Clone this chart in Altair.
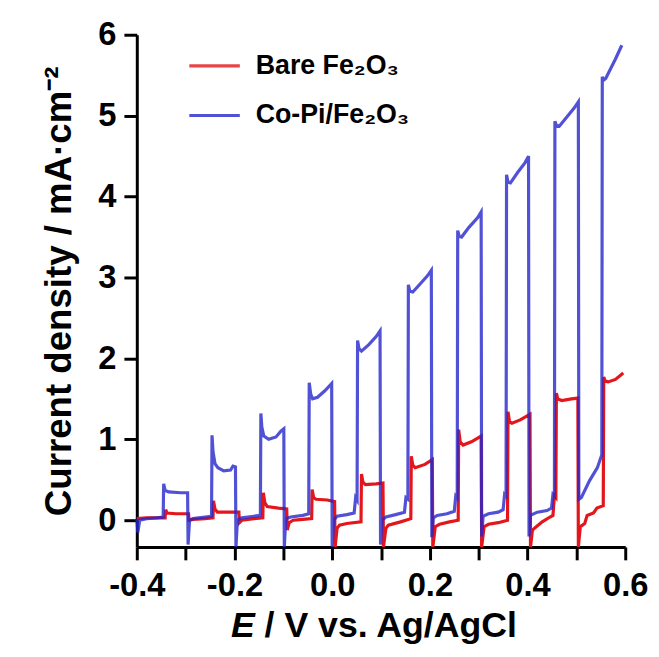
import altair as alt
import pandas as pd

# ---- data (chopped-light LSV) ----
bare_E = [-0.400, -0.380, -0.342, -0.341, -0.338, -0.320, -0.294, -0.293, -0.285, -0.260,
          -0.244, -0.243, -0.240, -0.235, -0.200, -0.191, -0.190, -0.185, -0.160, -0.142,
          -0.141, -0.138, -0.133, -0.110, -0.093, -0.092, -0.088, -0.080, -0.060, -0.042,
          -0.041, -0.038, -0.033, -0.010, 0.005, 0.006, 0.010, 0.015, 0.030, 0.059,
          0.060, 0.063, 0.068, 0.090, 0.104, 0.105, 0.110, 0.115, 0.140, 0.161,
          0.162, 0.165, 0.170, 0.190, 0.205, 0.206, 0.211, 0.220, 0.240, 0.258,
          0.259, 0.262, 0.268, 0.285, 0.305, 0.306, 0.311, 0.320, 0.340, 0.359,
          0.360, 0.363, 0.368, 0.385, 0.405, 0.406, 0.410, 0.416, 0.430, 0.446,
          0.452, 0.455, 0.458, 0.459, 0.462, 0.470, 0.490, 0.503, 0.504, 0.508,
          0.517, 0.522, 0.535, 0.542, 0.555, 0.556, 0.559, 0.565, 0.580, 0.596]
bare_J = [0.02, 0.03, 0.03, 0.13, 0.09, 0.08, 0.08, 0.00, 0.01, 0.02,
          0.03, 0.24, 0.14, 0.10, 0.10, 0.10, -0.03, 0.00, 0.02, 0.03,
          0.34, 0.22, 0.17, 0.15, 0.14, -0.12, -0.03, 0.00, 0.01, 0.02,
          0.38, 0.28, 0.26, 0.25, 0.23, -0.33, -0.10, -0.06, -0.04, -0.02,
          0.57, 0.47, 0.44, 0.45, 0.46, -0.33, -0.10, -0.06, -0.02, 0.02,
          0.79, 0.68, 0.65, 0.69, 0.75, -0.33, -0.08, -0.05, -0.02, 0.00,
          1.12, 0.97, 0.93, 0.97, 1.04, -0.33, -0.08, -0.05, -0.03, 0.00,
          1.34, 1.22, 1.20, 1.24, 1.31, -0.33, -0.12, -0.09, -0.02, 0.04,
          0.06, 0.30, 0.28, 1.57, 1.50, 1.48, 1.50, 1.51, -0.33, -0.08,
          -0.04, 0.06, 0.09, 0.15, 0.18, 1.77, 1.72, 1.71, 1.74, 1.82]

copi_E = [-0.400, -0.398, -0.394, -0.380, -0.360, -0.346, -0.345, -0.342, -0.335, -0.310,
          -0.296, -0.295, -0.292, -0.285, -0.260, -0.247, -0.246, -0.244, -0.240, -0.234,
          -0.222, -0.208, -0.203, -0.198, -0.197, -0.194, -0.185, -0.160, -0.147, -0.146,
          -0.144, -0.140, -0.130, -0.115, -0.105, -0.099, -0.098, -0.095, -0.085, -0.060,
          -0.048, -0.047, -0.044, -0.040, -0.030, -0.015, -0.001, 0.000, 0.003, 0.010,
          0.030, 0.045, 0.048, 0.051, 0.052, 0.055, 0.060, 0.075, 0.090, 0.098,
          0.099, 0.102, 0.110, 0.130, 0.148, 0.151, 0.155, 0.156, 0.159, 0.165,
          0.180, 0.195, 0.203, 0.204, 0.207, 0.215, 0.235, 0.250, 0.253, 0.256,
          0.257, 0.260, 0.265, 0.280, 0.298, 0.305, 0.306, 0.309, 0.320, 0.340,
          0.350, 0.353, 0.356, 0.357, 0.360, 0.365, 0.380, 0.395, 0.402, 0.403,
          0.406, 0.420, 0.440, 0.449, 0.452, 0.455, 0.456, 0.459, 0.465, 0.480,
          0.495, 0.504, 0.505, 0.510, 0.527, 0.543, 0.552, 0.553, 0.556, 0.560,
          0.570, 0.580, 0.593]
copi_J = [0.02, -0.15, 0.00, 0.02, 0.03, 0.04, 0.45, 0.37, 0.35, 0.34,
          0.34, -0.30, 0.00, 0.02, 0.04, 0.05, 1.05, 0.85, 0.70, 0.65,
          0.61, 0.62, 0.67, 0.66, -0.33, 0.00, 0.03, 0.05, 0.06, 1.32,
          1.15, 1.04, 1.00, 1.03, 1.10, 1.13, -0.33, 0.02, 0.04, 0.06,
          0.08, 1.70, 1.56, 1.50, 1.52, 1.60, 1.69, -0.33, 0.00, 0.05,
          0.07, 0.09, 0.28, 0.25, 2.22, 2.12, 2.09, 2.17, 2.27, 2.34,
          -0.30, 0.00, 0.04, 0.07, 0.10, 0.28, 0.26, 2.91, 2.83, 2.82,
          2.92, 3.02, 3.09, -0.21, 0.03, 0.06, 0.08, 0.11, 0.30, 0.28,
          3.58, 3.51, 3.50, 3.62, 3.74, 3.81, -0.20, 0.05, 0.08, 0.10,
          0.13, 0.32, 0.30, 4.27, 4.18, 4.17, 4.30, 4.42, 4.50, -0.20,
          0.06, 0.10, 0.12, 0.15, 0.32, 0.30, 4.93, 4.88, 4.87, 4.98,
          5.09, 5.17, 0.26, 0.28, 0.49, 0.65, 0.81, 5.48, 5.44, 5.46,
          5.58, 5.70, 5.87]

series_names = ["Bare Fe₂O₃", "Co-Pi/Fe₂O₃"]
series_colors = ["#e3161b", "#2626cc"]
x_ticks = [-0.4, -0.3, -0.2, -0.1, 0.0, 0.1, 0.2, 0.3, 0.4, 0.5, 0.6]
y_ticks = [0, 1, 2, 3, 4, 5, 6]
x_domain = [-0.4, 0.6]
y_domain = [-0.33, 6]

FONT = "Liberation Sans"

df_bare = pd.DataFrame({"E": bare_E, "J": bare_J, "series": series_names[0],
                        "idx": list(range(len(bare_E)))})
df_copi = pd.DataFrame({"E": copi_E, "J": copi_J, "series": series_names[1],
                        "idx": list(range(len(copi_E)))})

x_enc = alt.X("E:Q", scale=alt.Scale(domain=x_domain, nice=False, zero=False),
              axis=alt.Axis(values=x_ticks, title=None, labelFlush=False, labelOverlap=False,
                            labelPadding=10,
                            labelExpr="(round(datum.value*10) % 2 == 0) ? ((datum.value < -0.001 ? '-' : '') + format(abs(datum.value), '.1f')) : ''"))
y_enc = alt.Y("J:Q", scale=alt.Scale(domain=y_domain, nice=False, zero=False),
              axis=alt.Axis(values=y_ticks, format="d", title="Current density / mA·cm⁻²",
                            labelFlush=False, labelOverlap=False, labelPadding=8,
                            titlePadding=20, titleFontSize=37))
color_enc = alt.Color("series:N",
                      scale=alt.Scale(domain=series_names, range=series_colors),
                      legend=alt.Legend(title=None, orient="none", legendX=51, legendY=4,
                                        symbolType="stroke", symbolSize=2600,
                                        symbolStrokeWidth=3.2, labelFont=FONT,
                                        labelFontSize=27, labelFontWeight="bold",
                                        labelColor="black", labelOffset=14,
                                        labelLimit=300, rowPadding=9, padding=0))

red = alt.Chart(df_bare).mark_line(strokeWidth=3.2).encode(
    x=x_enc, y=y_enc, color=color_enc, order="idx:Q")
blue = alt.Chart(df_copi).mark_line(strokeWidth=3.2, opacity=0.8).encode(
    x=x_enc, y=y_enc, color=color_enc, order="idx:Q")

title_E = alt.Chart(pd.DataFrame({"t": ["E"]})).mark_text(
    font=FONT, fontSize=36, fontWeight="bold", fontStyle="italic",
    align="left", baseline="alphabetic", color="black").encode(
    text="t:N", x=alt.value(95), y=alt.value(608))
title_rest = alt.Chart(pd.DataFrame({"t": ["/ V vs. Ag/AgCl"]})).mark_text(
    font=FONT, fontSize=36, fontWeight="bold",
    align="left", baseline="alphabetic", color="black").encode(
    text="t:N", x=alt.value(129), y=alt.value(608))

chart = alt.layer(red, blue, title_E, title_rest).properties(
    width=493, height=517,
    autosize=alt.AutoSizeParams(type="none"),
    padding={"left": 130, "top": 24, "right": 26, "bottom": 100},
).configure_axis(
    grid=False, domainColor="black", domainWidth=3, tickColor="black", tickWidth=3,
    tickSize=13, labelFont=FONT, labelFontSize=33, labelFontWeight="bold",
    labelColor="black", titleFont=FONT, titleFontWeight="bold", titleColor="black",
).configure_view(stroke=None)

chart.save("out.html", embed_options={"renderer": "svg", "actions": False})
